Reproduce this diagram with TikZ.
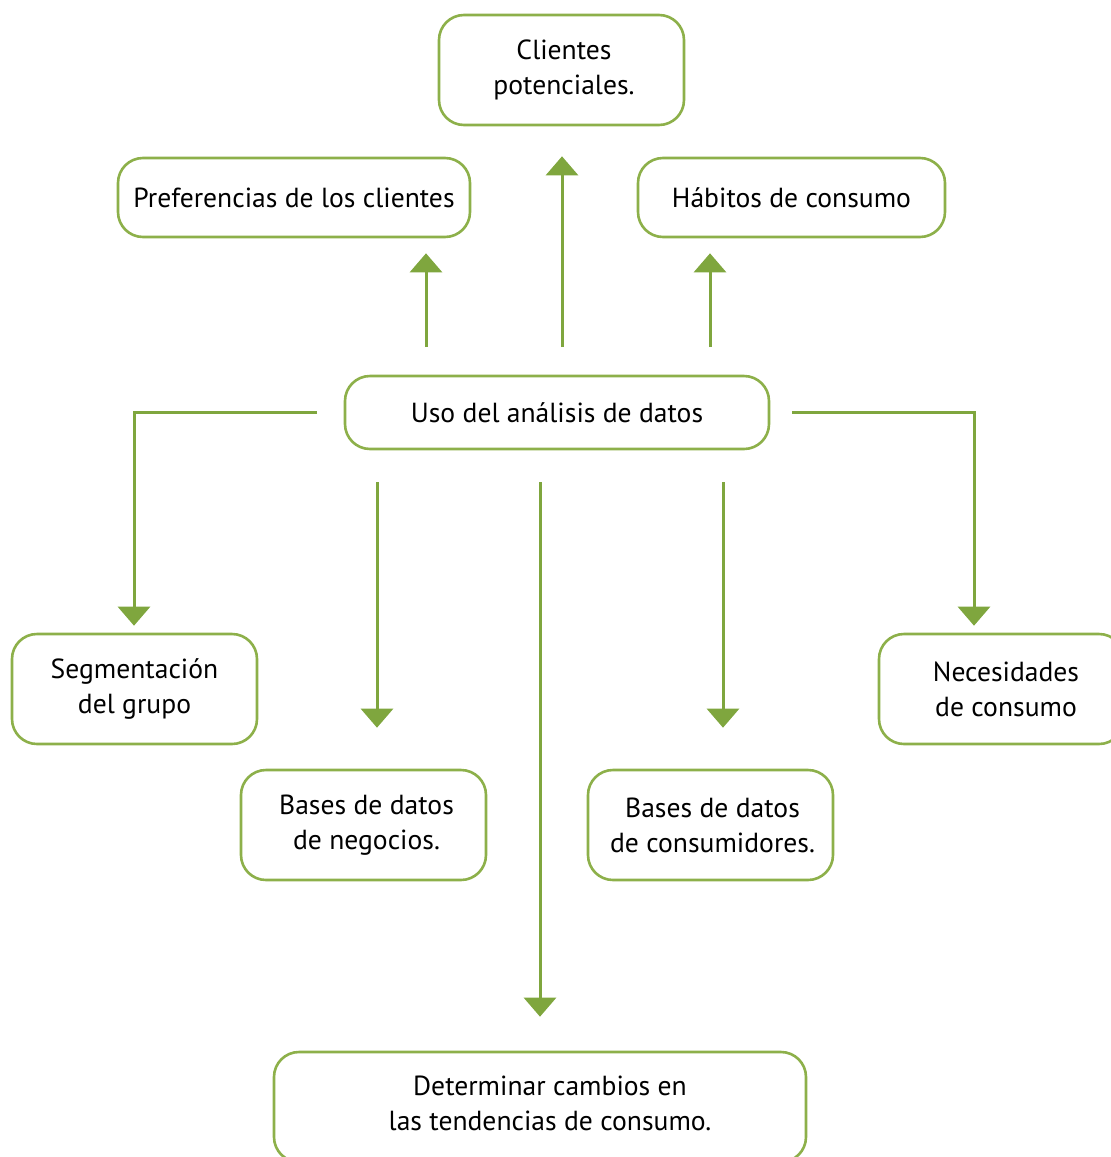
\documentclass[tikz,border=0pt]{standalone}
\usepackage{fontspec}
\setmainfont{PT Sans}
\usetikzlibrary{arrows.meta,calc}
\definecolor{boxgreen}{HTML}{8DB04A}
\definecolor{arrgreen}{HTML}{7FA63E}
\begin{document}
\begin{tikzpicture}[x=1pt,y=-1pt,
  box/.style={draw=boxgreen,line width=2.6pt,rounded corners=25pt,fill=white,
    align=center,inner sep=0pt,font=\fontsize{27.6}{35}\selectfont},
  txt/.style={align=center,inner sep=0pt,font=\fontsize{27.6}{35}\selectfont},
  arr/.style={draw=arrgreen,line width=3pt,-{Triangle[width=32pt,length=19pt]}}]
\useasboundingbox (0,0) rectangle (1111,1157);
% boxes
\node[box,minimum width=245pt,minimum height=110pt] (cli) at (561.5,70) {};
\node[txt] (clit) at (564,70) {Clientes\\potenciales.};
\node[box,minimum width=352pt,minimum height=79pt] (pref) at (294,197.5) {Preferencias de los clientes};
\node[box,minimum width=307pt,minimum height=79pt] (hab) at (791.5,197.5) {Hábitos de consumo};
\node[box,minimum width=424pt,minimum height=73pt] (uso) at (557,412.5) {Uso del análisis de datos};
\node[box,minimum width=245pt,minimum height=110pt] (seg) at (134.5,689) {Segmentación\\del grupo};
\node[box,minimum width=245pt,minimum height=110pt] (neg) at (363.5,825) {};
\node[txt] (negt) at (366.5,825) {Bases de datos\\de negocios.};
\node[box,minimum width=245pt,minimum height=110pt] (con) at (710.5,825) {};
\node[txt] (cont) at (712.5,825) {Bases de datos\\de consumidores.};
\node[box,minimum width=245pt,minimum height=110pt] (nec) at (1001.5,689) {};
\node[txt] (nect) at (1006,689) {Necesidades\\de consumo};
\node[box,minimum width=532pt,minimum height=110pt] (det) at (540,1107) {};
\node[txt] (dett) at (550,1103) {Determinar cambios en\\las tendencias de consumo.};
% start coordinates
\coordinate (u1) at (426,347);
\coordinate (u2) at (562,347);
\coordinate (u3) at (710,347);
\coordinate (l0) at (317,412);
\coordinate (l1) at (134,412);
\coordinate (r0) at (792,412);
\coordinate (r1) at (974,412);
\coordinate (d1) at (377,482);
\coordinate (d2) at (540,482);
\coordinate (d3) at (723,482);
% arrows
\draw[arr,shorten >=15pt] (u1) -- (u1 |- pref.south);
\draw[arr,shorten >=30pt] (u2) -- (u2 |- cli.south);
\draw[arr,shorten >=15pt] (u3) -- (u3 |- hab.south);
\draw[arr,shorten >=7pt] (l0) -- (l1) -- (l1 |- seg.north);
\draw[arr,shorten >=7pt] (r0) -- (r1) -- (r1 |- nec.north);
\draw[arr,shorten >=41pt] (d1) -- (d1 |- neg.north);
\draw[arr,shorten >=34pt] (d2) -- (d2 |- det.north);
\draw[arr,shorten >=41pt] (d3) -- (d3 |- con.north);
\end{tikzpicture}
\end{document}
